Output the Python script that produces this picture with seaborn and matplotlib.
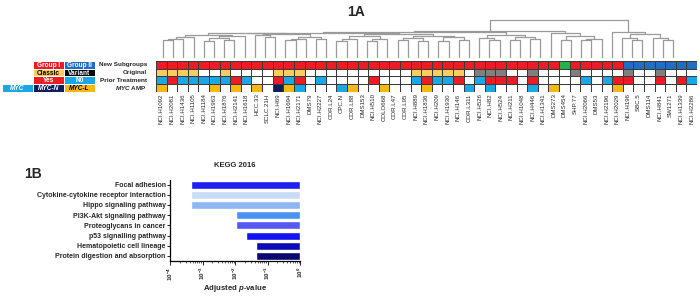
import numpy as np
import pandas as pd
import matplotlib
matplotlib.use("Agg")
import matplotlib.pyplot as plt
import seaborn as sns
from matplotlib.colors import ListedColormap

# ---- data: panel 1A ----
cell_lines = ["NCI.H1092", "NCI.H2081", "NCI.H1436", "NCI.H1105", "NCI.H1184", "NCI.H1963",
              "NCI.H1876", "NCI.H2141", "NCI.H1618", "HCC.33", "SCLC.21H", "NCI.H69", "NCI.H1694",
              "NCI.H2171", "DMS79", "NCI.H2227", "COR.L24", "CPC.N", "COR.L88", "DMS153",
              "NCI.H510", "COLO668", "COR.L47", "COR.L95", "NCI.H889", "NCI.H1836", "NCI.H209",
              "NCI.H1930", "NCI.H146", "COR.L311", "NCI.H526", "NCI.H82", "NCI.H524", "NCI.H211",
              "NCI.H1048", "NCI.H446", "NCI.H1341", "DMS273", "DMS454", "SHP.77", "NCI.H2066",
              "DMS53", "NCI.H2196", "NCI.H2029", "NCI.H196", "SBC.5", "DMS114", "NCI.H841",
              "SW1271", "NCI.H1339", "NCI.H2286"]
row_names = ["New Subgroups", "Original", "Prior Treatment", "$MYC$ AMP"]

# one character per cell line
new_subgroups = "1111111111" "1111111111" "1111111111" "11111111" "g11111" "2222222"
original = "cccc..c....ccc..........ccccc.vvv..v...v....v..v..."
prior_treatment = "nynnnnnyn..yny.n....y...nynny.nyyy.y....n.nyy..y.yn"
myc_amp = "l....l.l.l.Nlm...ml..l...l...m.m...m.l.....l......."

# dendrogram: leaves are column indices, nodes are (left, right, merge height)
g1 = ((((0, 1, 18), 2, 19.5), 3, 21), (((4, 5, 17), (6, 7, 18.5), 20), 8, 22), 23.5)
g2 = ((9, (10, 11, 21), 23), (((12, 13, 18), 14, 19.5), (15, 16, 19), 21.5), 24)
g3 = (((17, 18, 17.5), 19, 19.5), ((20, 21, 17), 22, 19), 22)
g4 = (((23, 24, 18), (25, 26, 17.5), 20.5), ((27, 28, 17), (29, 30, 18.5), 21), 22.5)
g5 = ((31, (32, 33, 18.5), 20.5), ((34, 35, 18), (36, 37, 19), 21.5), 23.5)
g6 = (38, ((39, 40, 18.5), ((41, 42, 18), 43, 19.5), 22), 25)
g7 = (44, ((45, (46, 47, 18), 20), (48, (49, 50, 18.5), 20.5), 24.5), 26.3)
tree = (((((g1, g2, 24.8), (g3, g4, 24.3), 25.3), g5, 26.3), g6, 27.3), g7, 38.3)

# ---- data: panel 1B ----
pathways = ["Focal adhesion", "Cytokine-cytokine receptor interaction", "Hippo signaling pathway",
            "PI3K-Akt signaling pathway", "Proteoglycans in cancer", "p53 signalling pathway",
            "Hematopoietic cell lineage", "Protein digestion and absorption"]
adj_p = [4.4e-4, 4.4e-4, 4.4e-4, 1.07e-2, 1.07e-2, 2.2e-2, 4.5e-2, 4.5e-2]
bar_colors = ["#1F1FEF", "#C8DCF6", "#8DB6F2", "#4A93F2", "#5658F0", "#1414F0", "#0C0CB4", "#0A0A6E"]

# colours
RED, BLUE2, GREEN = "#ED1C24", "#1F6EC3", "#22B14C"
CLASSIC, GREY, SKY = "#F9CD5F", "#7F7F7F", "#1AA7E6"
NAVY, MYCL, BLACK = "#0D1F5E", "#F8B90F", "#000000"
palette = ["white", RED, BLUE2, GREEN, CLASSIC, GREY, SKY, NAVY, MYCL, BLACK]
row_codes = [{"1": 1, "2": 2, "g": 3},
             {"c": 4, "v": 5, ".": 0},
             {"y": 1, "n": 6, ".": 0},
             {"m": 6, "N": 7, "l": 8, ".": 0}]

legend_labels = [["", "Group I", "Group II"], ["", "Classic", "Variant"],
                 ["", "Yes", "N0"], ["MYC", "MYC-N", "MYC-L"]]
legend_codes = [[np.nan, 1, 2], [np.nan, 4, 9], [np.nan, 1, 6], [6, 7, 8]]

sns.set_style("white")
plt.rcParams["font.family"] = ["Liberation Sans", "DejaVu Sans"]
plt.rcParams["mathtext.fontset"] = "custom"
plt.rcParams["mathtext.rm"] = "Liberation Sans:bold"
plt.rcParams["mathtext.bf"] = "Liberation Sans:bold"
plt.rcParams["mathtext.it"] = "Liberation Sans:italic:bold"

W, H = 700, 296
fig = plt.figure(figsize=(7, 2.96), dpi=100)


def box(x0, y0, x1, y1):
    return [x0 / W, 1 - y1 / H, (x1 - x0) / W, (y1 - y0) / H]


# ---- heatmap ----
rows = [new_subgroups, original, prior_treatment, myc_amp]
for r in rows:
    assert len(r) == len(cell_lines)
mat = pd.DataFrame([[row_codes[i][c] for c in rows[i]] for i in range(4)],
                   index=row_names, columns=cell_lines)
ax_hm = fig.add_axes(box(156, 61, 697, 92))
sns.heatmap(mat, cmap=ListedColormap(palette), vmin=-0.5, vmax=len(palette) - 0.5, cbar=False,
            linewidths=0.4, linecolor="#3a3a3a", xticklabels=True, yticklabels=True, ax=ax_hm)
ax_hm.tick_params(axis="x", length=0, pad=1, labelsize=4.4, rotation=90)
ax_hm.tick_params(axis="y", length=0, pad=6.5, labelsize=4.6, rotation=0)
for t in ax_hm.get_yticklabels():
    t.set_fontweight("bold")

# ---- dendrogram ----
ax_dn = fig.add_axes(box(158, 19, 678, 58))
ax_dn.set_xlim(-0.5, len(cell_lines) - 0.5)
ax_dn.set_ylim(0, 39)
ax_dn.axis("off")


def draw(node):
    if isinstance(node, int):
        return node, 0
    left, right, h = node
    xl, hl = draw(left)
    xr, hr = draw(right)
    ax_dn.plot([xl, xl, xr, xr], [hl, h, h, hr], color="#9a9a9a", lw=0.9, solid_capstyle="butt")
    return (xl + xr) / 2, h


draw(tree)

# ---- legend boxes ----
ax_lg = fig.add_axes(box(2, 61, 95, 92))
lg = pd.DataFrame(legend_codes)
sns.heatmap(lg, mask=lg.isna(), cmap=ListedColormap(palette), vmin=-0.5, vmax=len(palette) - 0.5,
            cbar=False, linewidths=0.7, linecolor="white", xticklabels=False, yticklabels=False, ax=ax_lg)
for i, row in enumerate(legend_labels):
    for j, lab in enumerate(row):
        if not lab:
            continue
        code = legend_codes[i][j]
        col = "black" if code in (4, 8) else "white"
        style = "italic" if i == 3 else "normal"
        ax_lg.text(j + 0.5, i + 0.55, lab, ha="center", va="center", fontsize=4.7,
                   fontweight="bold", fontstyle=style, color=col)

fig.text(356 / W, 1 - 12 / H, "1A", ha="center", va="center", fontsize=10, fontweight="bold")
fig.text(33 / W, 1 - 174 / H, "1B", ha="center", va="center", fontsize=10, fontweight="bold")

# ---- KEGG bar chart ----
ax_b = fig.add_axes(box(170, 179.5, 300, 261))
neg_log = -np.log10(adj_p)
sns.barplot(x=neg_log, y=pathways, hue=pathways, palette=bar_colors, legend=False, orient="h",
            width=0.78, saturation=1, ax=ax_b)
ax_b.set_xlim(4, 0)
ax_b.set_ylim(len(pathways) - 0.5, -0.5)
ax_b.set_xticks([4, 3, 2, 1, 0])
ax_b.set_xticklabels([r"$10^{-4}$", r"$10^{-3}$", r"$10^{-2}$", r"$10^{-1}$", r"$10^{0}$"],
                     rotation=90)
ax_b.set_xticks([-np.log10(k * 10.0 ** -n) for n in range(1, 5) for k in range(2, 10)], minor=True)
ax_b.tick_params(axis="x", which="major", length=3, width=0.7, pad=1, labelsize=4.5, bottom=True)
ax_b.tick_params(axis="x", which="minor", length=1.5, width=0.5, bottom=True)
ax_b.tick_params(axis="y", length=2, width=0.7, pad=1, labelsize=5.0, left=True)
for t in ax_b.get_yticklabels():
    t.set_fontweight("bold")
sns.despine(ax=ax_b, top=True, right=True)
for s in ("left", "bottom"):
    ax_b.spines[s].set_linewidth(0.9)
    ax_b.spines[s].set_color("black")
ax_b.set_title("KEGG 2016", fontsize=5.5, fontweight="bold", pad=9)
ax_b.set_xlabel(r"Adjusted $p$-value", fontsize=5.6, fontweight="bold", labelpad=1.5)
ax_b.set_ylabel("")

fig.savefig("out.png", dpi=100)
